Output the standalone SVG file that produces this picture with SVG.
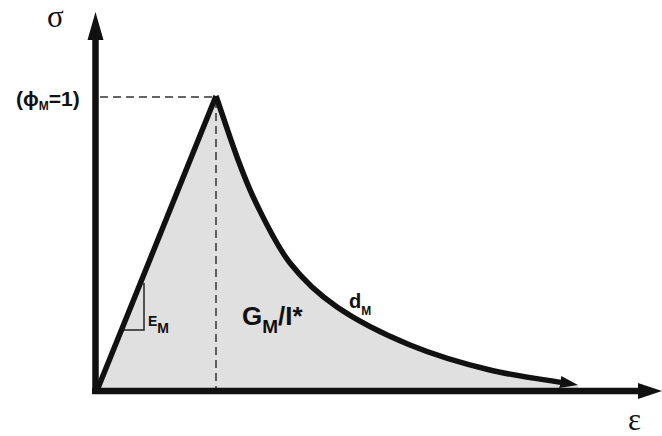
<svg xmlns="http://www.w3.org/2000/svg" width="662" height="436" viewBox="0 0 662 436">
<style>
.ax{stroke:#111;stroke-width:6.5;fill:none}
.crv{stroke:#111;stroke-width:5.5;fill:none;stroke-linejoin:miter}
.dash{stroke:#333;stroke-width:1.5;stroke-dasharray:8 5;fill:none}
.thin{stroke:#222;stroke-width:1.5;fill:none}
.b{font-family:"Liberation Sans",Arial,sans-serif;font-weight:bold;fill:#111}
.s{font-family:"Liberation Serif","Times New Roman",serif;fill:#111}
</style>
<defs>
<marker id="ah" markerUnits="userSpaceOnUse" markerWidth="20" markerHeight="12" refX="18" refY="6" orient="auto">
<path d="M0,0 L18,6 L0,12 Z" fill="#111"/>
</marker>
</defs>
<g id="area">
<path d="M98,388 L216,96 C223,116.3 230.2,138.8 237,157 C243.8,175.2 248.2,187.3 257,205 C265.8,222.7 276.7,246 290,263 C303.3,280 317,293.3 337,307 C357,320.7 384.5,334.5 410,345 C435.5,355.5 462,363.3 490,370 C518,376.7 548.7,380 578,385 L578,388 Z" fill="#e0e0e0"/>
</g>
<g id="guides">
<line class="dash" x1="100" y1="97" x2="214" y2="97"/>
<line class="dash" x1="216" y1="100" x2="216" y2="388"/>
<polyline class="thin" points="144,283 144,330 124,330"/>
</g>
<g id="axes">
<line class="ax" x1="95.5" y1="394" x2="95.5" y2="38"/>
<polygon points="95.5,12 87.5,40 103.5,40" fill="#111"/>
<line class="ax" x1="92" y1="391" x2="641" y2="391"/>
<polygon points="662,391 638,383 638,399" fill="#111"/>
</g>
<g id="connectors">
<path class="crv" d="M98,388 L216,96"/>
<path class="crv" pathLength="1000" stroke-dasharray="972 100" d="M216,96 C223,116.3 230.2,138.8 237,157 C243.8,175.2 248.2,187.3 257,205 C265.8,222.7 276.7,246 290,263 C303.3,280 317,293.3 337,307 C357,320.7 384.5,334.5 410,345 C435.5,355.5 462,363.3 490,370 C518,376.7 548.7,380 578,385" marker-end="url(#ah)"/>
</g>
<g id="labels">
<text class="s" x="47" y="27" font-size="31">σ</text>
<text class="s" x="628" y="430" font-size="31">ε</text>
<text class="b" x="16" y="106" font-size="21">(ϕ<tspan font-size="12" dy="4">M</tspan><tspan dy="-4">=1)</tspan></text>
<text class="b" x="148" y="326" font-size="14">E<tspan dy="7">M</tspan></text>
<text class="b" x="242" y="325" font-size="26">G<tspan font-size="19" dy="8">M</tspan><tspan dy="-8">/I*</tspan></text>
<text class="b" x="349" y="308" font-size="20">d<tspan font-size="12" dy="7">M</tspan></text>
</g>
</svg>
